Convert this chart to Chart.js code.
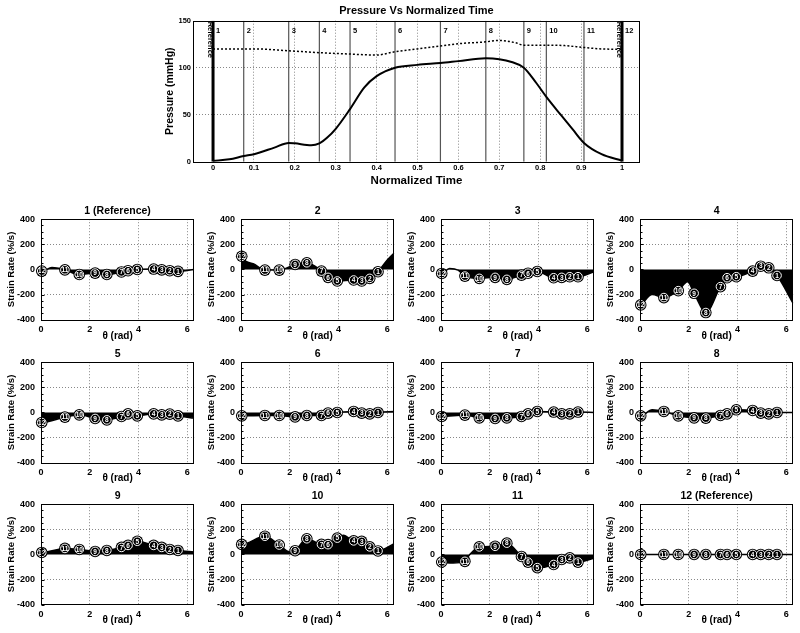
<!DOCTYPE html>
<html>
<head>
<meta charset="utf-8">
<script src="https://cdn.jsdelivr.net/npm/chart.js@4.4.0/dist/chart.umd.min.js"></script>
<style>
  body { margin: 0; background: #fff; width: 800px; height: 633px; position: relative; overflow: hidden; }
  canvas { position: absolute; }
</style>
</head>
<body>
<canvas id="pressure" width="500" height="195" style="left:150px;top:0"></canvas>
<script>
// ── Data: pressure trace ──────────────────────────────────────────────────────
const pressTime = [0, 0.04, 0.075, 0.1, 0.15, 0.185, 0.2, 0.24, 0.26, 0.28, 0.3, 0.335, 0.37, 0.4, 0.445,
                   0.5, 0.556, 0.6, 0.667, 0.7, 0.73, 0.76, 0.79, 0.815, 0.85, 0.88, 0.907, 0.95, 1];
const pressVals = [1, 2.5, 6, 8, 15, 20, 19.5, 17.5, 19.5, 26, 35, 56, 79, 91, 100,
                   103, 105, 107, 110, 109, 106, 100, 84, 69, 50, 34, 20, 8, 1];
const refTime   = [0, 0.1, 0.185, 0.26, 0.335, 0.4, 0.445, 0.5, 0.556, 0.6, 0.667, 0.7, 0.74, 0.76, 0.815, 0.86, 0.907, 0.95, 1];
const refVals   = [120, 120, 118, 116, 114.5, 113.5, 117, 120, 123, 125.5, 127.5, 129, 126.5, 124, 124, 123.5, 121.5, 120, 119.5];
const eventTimes  = [0, 0.075, 0.185, 0.26, 0.335, 0.445, 0.556, 0.667, 0.76, 0.815, 0.907, 1];
const eventLabels = ["1", "2", "3", "4", "5", "6", "7", "8", "9", "10", "11", "12"];
const timeTicks   = [0, 0.1, 0.2, 0.3, 0.4, 0.5, 0.6, 0.7, 0.8, 0.9, 1];
const pressTicks  = [0, 50, 100, 150];

// ── Data: strain rate panels ──────────────────────────────────────────────────
const segTheta  = [0.03, 0.98, 1.57, 2.22, 2.7, 3.3, 3.57, 3.95, 4.62, 4.95, 5.28, 5.62];
const segLabels = ["12", "11", "10", "9", "8", "7", "6", "5", "4", "3", "2", "1"];
const thetaTicks = [0, 2, 4, 6];
const rateTicks  = [-400, -200, 0, 200, 400];
const rateMinor  = [-350, -300, -250, -150, -100, -50, 50, 100, 150, 250, 300, 350];
const panelTitles = ["1 (Reference)", "2", "3", "4", "5", "6", "7", "8", "9", "10", "11", "12 (Reference)"];

// segment values, in segLabels order (%/s)
const seg1  = [-13, -3, -40, -29, -40, -20, -10, 0, 3, -3, -10, -15];
const seg2  = [105, -5, -5, 40, 53, -13, -63, -92, -84, -92, -71, -18];
const seg3  = [-32, -53, -71, -63, -79, -45, -30, -16, -66, -63, -58, -58];
const seg4  = [-282, -224, -169, -190, -343, -137, -66, -58, -13, 26, 13, -48];
const seg5  = [-80, -37, -19, -48, -59, -32, -11, -27, -11, -19, -13, -27];
const seg6  = [-27, -24, -24, -35, -24, -24, -5, 0, 8, -5, -11, 0];
const seg7  = [-32, -21, -43, -48, -43, -32, -11, 8, 3, -11, -11, 3];
const seg8  = [-27, 8, -27, -43, -45, -24, -11, 21, 16, -5, -11, 0];
const seg9  = [16, 48, 40, 24, 32, 56, 72, 105, 72, 56, 40, 32];
const seg10 = [80, 145, 75, 30, 125, 80, 78, 130, 108, 104, 60, 28];
const seg11 = [-60, -55, 60, 65, 90, -16, -61, -105, -80, -40, -27, -61];
const seg12 = [0, 0, 0, 0, 0, 0, 0, 0, 0, 0, 0, 0];

// extra curve points between segments [theta, %/s]
const extra1  = [[0, -5], [0.45, 15], [6.28, 0]];
const extra2  = [[0, 135], [0.5, 45], [6.0, 75], [6.28, 131]];
const extra3  = [[0, -25], [0.35, 8], [0.7, -5], [6.28, -18]];
const extra4  = [[0, -285], [0.5, -200], [1.95, -98], [6.28, -270]];
const extra5  = [[0, -40], [6.28, -45]];
const extra6  = [[0, -5], [6.28, 8]];
const extra7  = [[0, 0], [6.28, 0]];
const extra8  = [[0, -5], [0.5, 21], [6.28, 0]];
const extra9  = [[0, 20], [6.28, 20]];
const extra10 = [[0, 95], [2.0, 20], [4.2, 152], [6.28, 85]];
const extra11 = [[0, -50], [0.5, -68], [1.18, 0], [6.28, -30]];
const extra12 = [[0, 0], [6.28, 0]];

const segSets   = [seg1, seg2, seg3, seg4, seg5, seg6, seg7, seg8, seg9, seg10, seg11, seg12];
const extraSets = [extra1, extra2, extra3, extra4, extra5, extra6, extra7, extra8, extra9, extra10, extra11, extra12];

// ── Shared bits ───────────────────────────────────────────────────────────────
const FAMILY = "'Liberation Sans', Arial, sans-serif";
const bold = (size, lh) => ({ family: FAMILY, size, weight: "bold", lineHeight: lh || 1.2 });

const framePlugin = {
  id: "frame",
  afterDraw(chart) {
    const a = chart.chartArea, ctx = chart.ctx;
    ctx.save();
    ctx.strokeStyle = "#000";
    ctx.lineWidth = 1;
    ctx.strokeRect(Math.round(a.left) + 0.5, Math.round(a.top) + 0.5,
                   Math.round(a.right - a.left) - 1, Math.round(a.bottom - a.top));
    ctx.restore();
  }
};

// small inside ticks on the left axis of the strain panels
const minorTickPlugin = {
  id: "minorTicks",
  afterDraw(chart) {
    const ctx = chart.ctx, y = chart.scales.y, left = Math.round(chart.chartArea.left) + 0.5;
    ctx.save();
    ctx.strokeStyle = "#000";
    ctx.lineWidth = 1;
    ctx.beginPath();
    rateMinor.forEach(v => {
      const py = Math.round(y.getPixelForValue(v)) + 0.5;
      ctx.moveTo(left, py);
      ctx.lineTo(left + 2, py);
    });
    rateTicks.forEach(v => {
      const py = Math.round(y.getPixelForValue(v)) + 0.5;
      ctx.moveTo(left, py);
      ctx.lineTo(left + 3, py);
    });
    ctx.stroke();
    ctx.restore();
  }
};

const segTextPlugin = {
  id: "segText",
  afterDatasetsDraw(chart) {
    const ctx = chart.ctx;
    const pts = chart.getDatasetMeta(0).data;
    ctx.save();
    ctx.fillStyle = "#fff";
    ctx.font = "bold 6.5px " + FAMILY;
    ctx.textAlign = "center";
    ctx.textBaseline = "middle";
    pts.forEach((p, i) => ctx.fillText(segLabels[i], p.x, p.y + 0.5));
    ctx.restore();
  }
};

const eventTextPlugin = {
  id: "eventText",
  afterDatasetsDraw(chart) {
    const ctx = chart.ctx, x = chart.scales.x, top = chart.chartArea.top;
    ctx.save();
    ctx.fillStyle = "#000";
    ctx.font = "bold 7.5px " + FAMILY;
    ctx.textBaseline = "middle";
    eventTimes.forEach((t, i) => {
      const px = x.getPixelForValue(t);
      ctx.textAlign = "left";
      ctx.fillText(eventLabels[i], px + 3, top + 10);
      if (i === 0 || i === eventTimes.length - 1) {
        ctx.save();
        ctx.translate(px - 3, top + 1);
        ctx.rotate(Math.PI / 2);
        ctx.fillText("Reference", 0, 0);
        ctx.restore();
      }
    });
    ctx.restore();
  }
};

// ── Pressure chart ────────────────────────────────────────────────────────────
function buildPressure() {
  const lines = eventTimes.map((t, i) => {
    const end = i === 0 || i === eventTimes.length - 1;
    return {
      data: [{ x: t, y: 0 }, { x: t, y: 150 }],
      borderColor: end ? "#000" : "#555",
      borderWidth: end ? 3 : 1.2,
      pointRadius: 0,
      tension: 0
    };
  });
  new Chart(document.getElementById("pressure"), {
    type: "line",
    data: {
      datasets: [
        {
          data: pressTime.map((t, i) => ({ x: t, y: pressVals[i] })),
          borderColor: "#000", borderWidth: 2, pointRadius: 0,
          cubicInterpolationMode: "monotone"
        },
        {
          data: refTime.map((t, i) => ({ x: t, y: refVals[i] })),
          borderColor: "#000", borderWidth: 1.5, borderDash: [2, 2], pointRadius: 0,
          cubicInterpolationMode: "monotone"
        },
        ...lines
      ]
    },
    options: {
      responsive: false, animation: false, events: [],
      layout: { padding: { right: 10 } },
      plugins: {
        legend: { display: false }, tooltip: { enabled: false },
        title: {
          display: true, text: "Pressure Vs Normalized Time", fullSize: false,
          color: "#000", font: bold(11, 1), padding: { top: 5.2, bottom: 4.5 }
        }
      },
      scales: {
        x: {
          type: "linear", min: -0.049, max: 1.044,
          afterBuildTicks: s => { s.ticks = timeTicks.map(v => ({ value: v })); },
          afterFit: s => { s.height = 33.3; },
          ticks: { color: "#000", font: bold(7.5), padding: 2, maxRotation: 0, autoSkip: false, callback: v => String(v) },
          grid: { drawTicks: false, color: c => (c.tick && c.tick.value > 0 && c.tick.value < 1) ? "#888" : "transparent" },
          border: { display: false, dash: [1, 2] },
          title: { display: true, text: "Normalized Time", color: "#000", font: bold(11.5, 1), padding: { top: 0, bottom: 8 } }
        },
        y: {
          min: 0, max: 150,
          afterBuildTicks: s => { s.ticks = pressTicks.map(v => ({ value: v })); },
          afterFit: s => { s.width = 43; },
          ticks: { color: "#000", font: bold(7.5), padding: 2, callback: v => String(v) },
          grid: { drawTicks: false, color: c => (c.tick && (c.tick.value === 50 || c.tick.value === 100)) ? "#888" : "transparent" },
          border: { display: false, dash: [1, 2] },
          title: { display: true, text: "Pressure (mmHg)", color: "#000", font: bold(10.5, 1), padding: { top: 14.5, bottom: 0 } }
        }
      }
    },
    plugins: [framePlugin, eventTextPlugin]
  });
}

// ── Strain rate panels ────────────────────────────────────────────────────────
const rows = [
  { top: 200, h: 141, titlePad: 0 },
  { top: 343, h: 140, titlePad: 0 },
  { top: 485, h: 148, titlePad: 8 }
];
const colLeft = [0, 200, 400, 599];

function curvePoints(seg, extra) {
  const pts = segTheta.map((t, i) => ({ x: t, y: seg[i] }));
  extra.forEach(p => pts.push({ x: p[0], y: p[1] }));
  return pts.sort((a, b) => a.x - b.x);
}

function buildPanel(idx) {
  const row = rows[Math.floor(idx / 4)];
  const cv = document.createElement("canvas");
  cv.width = 200;
  cv.height = row.h;
  cv.style.left = colLeft[idx % 4] + "px";
  cv.style.top = row.top + "px";
  document.body.appendChild(cv);

  const seg = segSets[idx];
  const marks = segTheta.map((t, i) => ({ x: t, y: seg[i] }));

  new Chart(cv, {
    type: "line",
    data: {
      datasets: [
        { data: marks, showLine: false, pointRadius: 4.3, pointBackgroundColor: "#000",
          pointBorderColor: "#fff", pointBorderWidth: 1, clip: false },
        { data: marks, showLine: false, pointRadius: 5.8, pointBackgroundColor: "#000",
          pointBorderWidth: 0, clip: false },
        { data: curvePoints(seg, extraSets[idx]), borderColor: "#000", borderWidth: 1.5,
          backgroundColor: "#000", fill: "origin", pointRadius: 0, cubicInterpolationMode: "monotone" }
      ]
    },
    options: {
      responsive: false, animation: false, events: [],
      layout: { padding: { right: 4 } },
      plugins: {
        legend: { display: false }, tooltip: { enabled: false },
        title: {
          display: true, text: panelTitles[idx], fullSize: false, color: "#000",
          font: bold(10.5, 1), padding: { top: 6, bottom: 2.7 }
        }
      },
      scales: {
        x: {
          type: "linear", min: 0, max: 2 * Math.PI,
          afterBuildTicks: s => { s.ticks = thetaTicks.map(v => ({ value: v })); },
          afterFit: s => { s.height = row.h - 19.2 - 100.5; },
          ticks: { color: "#000", font: bold(9), padding: 4, maxRotation: 0, autoSkip: false, callback: v => String(v) },
          grid: { drawTicks: false, color: c => (c.tick && c.tick.value > 0) ? "#888" : "transparent" },
          border: { display: false, dash: [1, 2] },
          title: { display: true, text: "θ (rad)", color: "#000", font: bold(10, 1), padding: { top: 0, bottom: row.titlePad } }
        },
        y: {
          min: -400, max: 400,
          afterBuildTicks: s => { s.ticks = rateTicks.map(v => ({ value: v })); },
          afterFit: s => { s.width = 41; },
          ticks: { color: "#000", font: bold(9), padding: 6, callback: v => String(v) },
          grid: { drawTicks: false, color: c => (c.tick && Math.abs(c.tick.value) === 200) ? "#888" : "transparent" },
          border: { display: false, dash: [1, 2] },
          title: { display: true, text: "Strain Rate (%/s)", color: "#000", font: bold(9.5, 1), padding: { top: 7, bottom: 0 } }
        }
      }
    },
    plugins: [framePlugin, minorTickPlugin, segTextPlugin]
  });
}

buildPressure();
panelTitles.forEach((_, i) => buildPanel(i));
</script>
</body>
</html>
